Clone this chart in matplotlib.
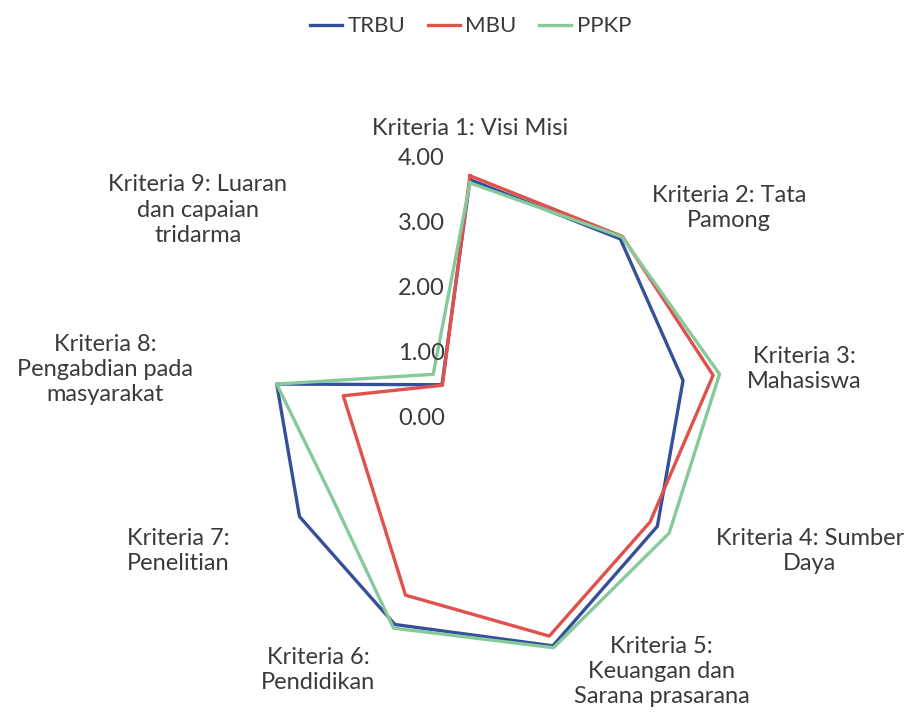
import numpy as np
import matplotlib
matplotlib.use("Agg")
import matplotlib.pyplot as plt
from matplotlib.transforms import offset_copy

plt.rcParams['font.family'] = ['Lato', 'DejaVu Sans']

categories = [
    "Kriteria 1: Visi Misi",
    "Kriteria 2: Tata\nPamong",
    "Kriteria 3:\nMahasiswa",
    "Kriteria 4: Sumber\nDaya",
    "Kriteria 5:\nKeuangan dan\nSarana prasarana",
    "Kriteria 6:\nPendidikan",
    "Kriteria 7:\nPenelitian",
    "Kriteria 8:\nPengabdian pada\nmasyarakat",
    "Kriteria 9: Luaran\ndan capaian\ntridarma",
]
trbu = [3.67, 3.60, 3.33, 3.33, 3.73, 3.38, 3.03, 3.02, 0.67]
mbu = [3.73, 3.65, 3.80, 3.20, 3.57, 2.90, 1.80, 1.98, 0.66]
ppkp = [3.62, 3.64, 3.90, 3.54, 3.76, 3.44, 2.45, 3.02, 0.88]
series_names = ["TRBU", "MBU", "PPKP"]
r_ticks = [0, 1, 2, 3, 4]

# where the category labels sit (angle in degrees, radius in value units)
label_pos = [(0, 4.46), (51, 5.13), (81.7, 5.20), (111.4, 5.62), (142.9, 4.89),
             (211.1, 4.53), (245.5, 4.94), (277.6, 5.66), (307.4, 5.27)]

colors = ['#34509a', '#e0504c', '#86c99a']
txt = '#3a3a3a'

fig = plt.figure(figsize=(9.17, 7.14), dpi=100)
ax = fig.add_axes([0.229, 0.0504, 0.567, 0.728], projection='polar')
ax.set_theta_zero_location('N')
ax.set_theta_direction(-1)

n = len(categories)
angles = np.arange(n) * 2 * np.pi / n
angles_closed = np.concatenate([angles, angles[:1]])

for vals, name, c in zip([trbu, mbu, ppkp], series_names, colors):
    v = np.array(vals + vals[:1])
    ax.plot(angles_closed, v, color=c, lw=2.4, label=name)

ax.set_ylim(0, 4)
ax.grid(False)
ax.spines['polar'].set_visible(False)
ax.set_xticks([])
ax.set_yticks([])

# radial value labels left of the vertical axis
trans = offset_copy(ax.transData, fig=fig, x=-25, y=0, units='dots')
for t in r_ticks:
    ax.text(0, t, f"{t:.2f}", transform=trans, ha='right', va='center',
            fontsize=17, color=txt)

for lab, (a, r) in zip(categories, label_pos):
    ax.text(np.deg2rad(a), r, lab, ha='center', va='center', fontsize=17,
            color=txt, linespacing=1.25)

fig.legend(loc='upper center', bbox_to_anchor=(0.513, 1.005), ncol=3, frameon=False,
           fontsize=16, handlelength=1.45, handletextpad=0.25, columnspacing=1.0,
           labelcolor=txt)

fig.savefig('out.png', dpi=100)
